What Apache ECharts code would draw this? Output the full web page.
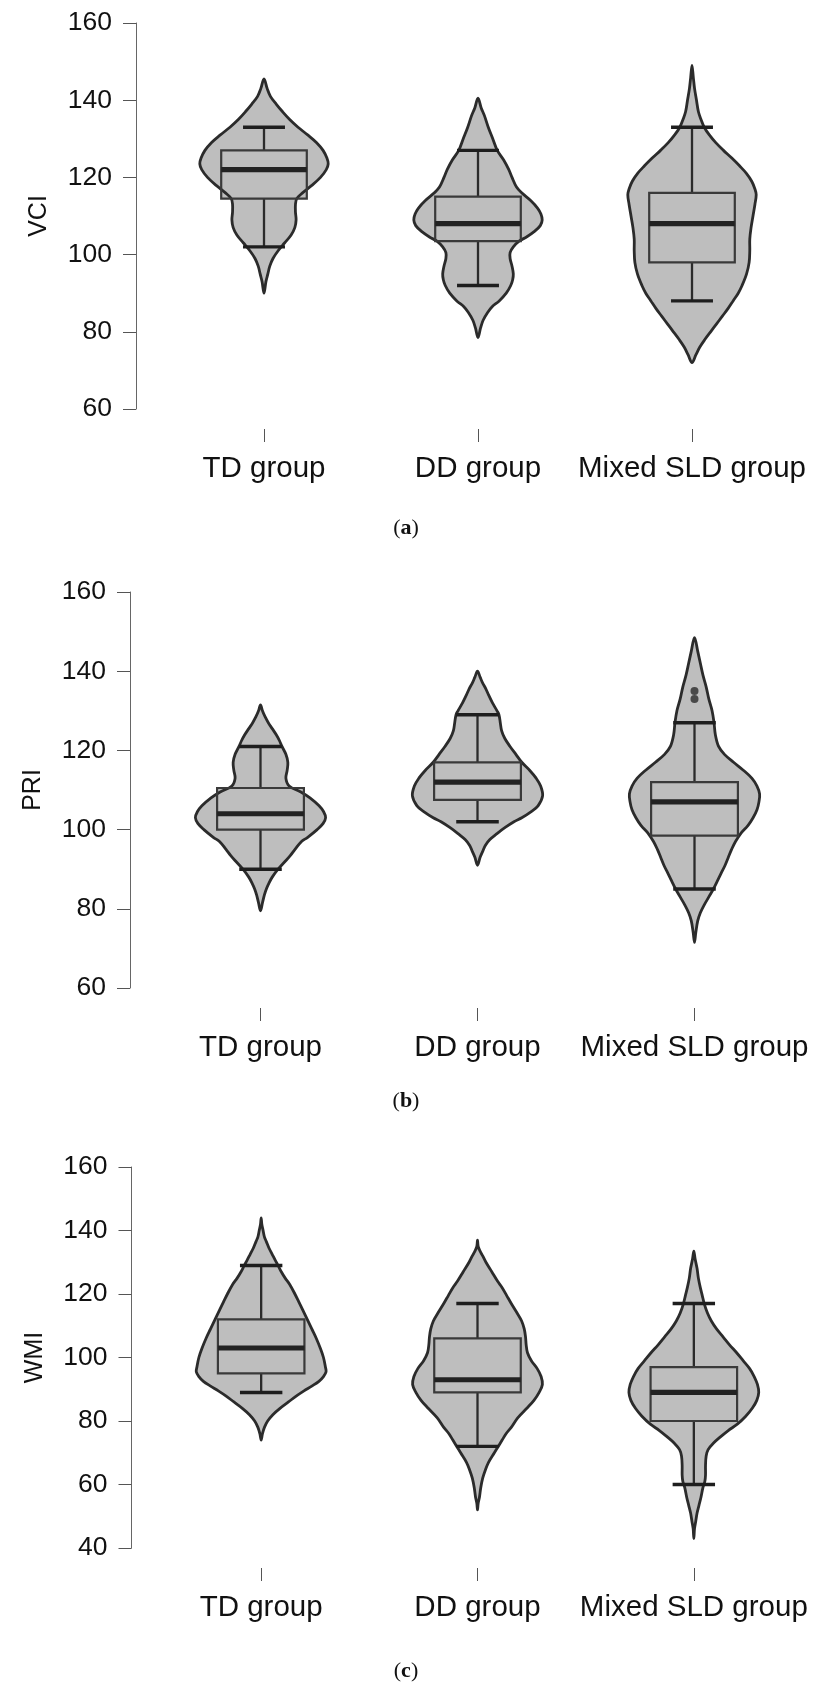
<!DOCTYPE html>
<html>
<head>
<meta charset="utf-8">
<script src="https://cdn.jsdelivr.net/npm/echarts@6/dist/echarts.min.js"></script>
<style>
html,body{margin:0;padding:0;background:#fff;}
#chart{width:813px;height:1690px;}
</style>
</head>
<body>
<div id="chart"></div>
<script>
// ---------- DATA ----------
const categories = ['TD group', 'DD group', 'Mixed SLD group'];
const yNames = ['VCI', 'PRI', 'WMI'];
const captions = ['a', 'b', 'c'];
// axis ranges [min, max, step]
const vciRange = [60, 160, 20];
const priRange = [60, 160, 20];
const wmiRange = [40, 160, 20];

// box stats: [lower whisker, Q1, median, Q3, upper whisker]
const vciBox = [[102, 114.5, 122, 127, 133], [92, 103.5, 108, 115, 127], [88, 98, 108, 116, 133]];
const priBox = [[90, 100, 104, 110.5, 121], [102, 107.5, 112, 117, 129], [85, 98.5, 107, 112, 127]];
const wmiBox = [[89, 95, 103, 112, 129], [72, 89, 93, 106, 117], [60, 80, 89, 97, 117]];

// outliers [category index, value]
const priOutliers = [[2, 133], [2, 135]];

// violin density profiles: [value, relative half-width]
const vciTD = [[145.5,0],[143,0.05],[141,0.1],[139,0.19],[137,0.29],[135,0.4],[133,0.53],[131,0.68],[129,0.82],[127,0.92],[125,0.98],[123.5,1],[122,0.97],[120,0.88],[118,0.75],[116,0.6],[114.5,0.51],[113,0.49],[111,0.49],[109,0.5],[107,0.48],[105,0.42],[103,0.32],[101,0.22],[99,0.14],[97,0.09],[95,0.06],[93,0.03],[90,0]];
const vciDD = [[140.5,0],[138,0.05],[136,0.1],[133,0.16],[130,0.23],[127,0.3],[124.5,0.4],[122,0.48],[120,0.53],[117.5,0.6],[116,0.68],[114,0.82],[112,0.93],[110.5,0.98],[109,1],[107.5,0.97],[106,0.88],[104.5,0.75],[103.5,0.64],[102,0.55],[100.5,0.5],[99,0.5],[97,0.53],[95,0.55],[93.5,0.54],[92,0.51],[90,0.44],[88,0.33],[86.5,0.22],[85,0.15],[83,0.08],[81,0.04],[78.5,0]];
const vciMixed = [[149,0],[146,0.02],[143,0.04],[140,0.07],[137,0.1],[135,0.14],[133,0.19],[131,0.27],[129,0.37],[127,0.49],[125,0.62],[123,0.74],[121,0.85],[119,0.93],[117,0.98],[115.5,1],[113,0.98],[110,0.95],[107,0.92],[104,0.9],[101,0.9],[98,0.89],[95,0.85],[92,0.78],[90,0.72],[88,0.64],[86,0.56],[84,0.47],[82,0.38],[80,0.29],[78,0.2],[76,0.12],[74,0.06],[72,0]];

const priTD = [[131.5,0],[130,0.03],[128.5,0.07],[127,0.12],[125.5,0.18],[124,0.24],[122.5,0.29],[121,0.33],[119,0.39],[117,0.42],[115,0.41],[113,0.39],[111,0.44],[109.5,0.62],[108,0.76],[106,0.9],[104.5,0.97],[103,1],[101.5,0.96],[100,0.87],[98,0.72],[97,0.63],[95,0.53],[93.5,0.46],[92,0.38],[90,0.27],[88,0.18],[86.5,0.13],[85,0.09],[83.5,0.06],[81.5,0.03],[79.5,0]];
const priDD = [[140,0],[138.5,0.04],[137,0.08],[135.5,0.13],[134,0.17],[132,0.23],[130,0.3],[129,0.33],[127,0.35],[125,0.37],[123,0.42],[121,0.5],[119,0.59],[117,0.68],[115,0.8],[113,0.9],[111,0.97],[108.5,1],[106,0.93],[104.5,0.82],[103,0.68],[102,0.56],[100.5,0.42],[99,0.3],[97.5,0.19],[96,0.12],[94.5,0.08],[93,0.04],[91,0]];
const priMixed = [[148.5,0],[145,0.05],[142,0.09],[139,0.13],[136,0.18],[133,0.22],[130,0.27],[127,0.3],[124,0.32],[121,0.37],[119,0.46],[117,0.6],[115,0.75],[113,0.88],[111,0.96],[109,1],[107,0.99],[105,0.96],[103,0.9],[101,0.82],[99,0.71],[97,0.63],[95,0.57],[93,0.52],[91,0.47],[89,0.41],[87,0.35],[85,0.29],[83,0.22],[81,0.15],[79,0.09],[77,0.05],[74,0.02],[71.5,0]];

const wmiTD = [[144,0],[142,0.01],[140,0.03],[138,0.05],[136.5,0.08],[134.5,0.12],[132.5,0.17],[130.5,0.22],[129,0.26],[127,0.31],[125,0.37],[123,0.44],[120,0.52],[117.5,0.58],[115,0.64],[112,0.71],[109,0.78],[106,0.85],[103,0.91],[100,0.96],[97,0.99],[95.5,1],[94,0.96],[92.5,0.89],[91,0.78],[89.5,0.66],[88,0.55],[86,0.42],[84,0.29],[82,0.18],[80,0.1],[78,0.05],[76,0.02],[74,0]];
const wmiDD = [[137,0],[135,0.01],[133.5,0.04],[132,0.08],[130,0.13],[127,0.22],[124,0.31],[122,0.38],[119.5,0.45],[117,0.52],[114,0.61],[111.5,0.68],[109,0.72],[106.5,0.74],[104,0.75],[101.5,0.77],[99,0.83],[96.5,0.92],[94,0.98],[91.5,1],[89,0.95],[86.5,0.87],[84,0.76],[81,0.62],[78,0.52],[76,0.44],[74,0.38],[72,0.32],[70,0.26],[67,0.17],[64.5,0.12],[62,0.08],[59,0.05],[56,0.03],[54,0.01],[52,0]];
const wmiMixed = [[133.5,0],[131,0.02],[128,0.05],[125,0.07],[122,0.1],[119.5,0.13],[117,0.16],[114,0.21],[111.5,0.27],[109,0.35],[106.5,0.45],[104,0.55],[101.5,0.66],[99,0.76],[96.5,0.86],[94,0.93],[91.5,0.98],[89,1],[86.5,0.97],[84,0.9],[81.5,0.8],[79,0.67],[77,0.53],[75,0.41],[73,0.3],[71,0.22],[69,0.19],[66,0.18],[63,0.18],[61,0.17],[59,0.14],[56,0.11],[53.5,0.08],[51,0.05],[48.5,0.03],[46,0.01],[43,0]];

// ---------- STYLE / LAYOUT ----------
const FONT = 'Liberation Sans, Arial, sans-serif';
const FILL = '#bebebe';
const DARK = '#2b2b2b';
const VIOLIN_HALF = 0.30, BOX_HALF = 0.20, CAP_HALF = 0.098;

const panels = [
  { profiles: [vciTD, vciDD, vciMixed], box: vciBox, range: vciRange, grid: {left: 157, width: 642, top: 23, height: 386}, yOff: 21, cap: {x: 401, y: 525} },
  { profiles: [priTD, priDD, priMixed], box: priBox, range: priRange, grid: {left: 152, width: 651, top: 592, height: 396}, yOff: 22, cap: {x: 401, y: 1098} },
  { profiles: [wmiTD, wmiDD, wmiMixed], box: wmiBox, range: wmiRange, grid: {left: 153, width: 649, top: 1167, height: 381}, yOff: 21.5, cap: {x: 401, y: 1668} }
];

function violinSeries(k) {
  const P = panels[k];
  return {
    type: 'custom',
    xAxisIndex: k, yAxisIndex: k,
    silent: true,
    data: P.box.map((b, i) => [i, b[2]]),
    renderItem: function (params, api) {
      const i = api.value(0);
      const prof = P.profiles[i];
      const st = P.box[i];
      const band = api.size([1, 0])[0];
      const cx = api.coord([i, st[2]])[0];
      const vw = band * VIOLIN_HALF, bw = band * BOX_HALF, cw = band * CAP_HALF;
      const yOf = v => api.coord([i, v])[1];
      const left = prof.map(p => [cx - p[1] * vw, yOf(p[0])]);
      const right = prof.slice().reverse().map(p => [cx + p[1] * vw, yOf(p[0])]);
      const pts = left.concat(right.slice(1, right.length - 1));
      const yLo = yOf(st[0]), yQ1 = yOf(st[1]), yMed = yOf(st[2]), yQ3 = yOf(st[3]), yHi = yOf(st[4]);
      return {
        type: 'group',
        children: [
          { type: 'polygon', shape: { points: pts, smooth: 0.35 }, style: { fill: FILL, stroke: null } },
          { type: 'rect', shape: { x: cx - bw, y: yQ3, width: 2 * bw, height: yQ1 - yQ3 }, style: { fill: FILL, stroke: null } },
          { type: 'polygon', shape: { points: pts, smooth: 0.35 }, style: { fill: null, stroke: DARK, lineWidth: 2.8 } },
          { type: 'line', shape: { x1: cx, y1: yQ3, x2: cx, y2: yHi }, style: { stroke: DARK, lineWidth: 2.3 } },
          { type: 'line', shape: { x1: cx, y1: yQ1, x2: cx, y2: yLo }, style: { stroke: DARK, lineWidth: 2.3 } },
          { type: 'rect', shape: { x: cx - bw, y: yQ3, width: 2 * bw, height: yQ1 - yQ3 }, style: { fill: null, stroke: '#3a3a3a', lineWidth: 2.2 } },
          { type: 'line', shape: { x1: cx - cw, y1: yHi, x2: cx + cw, y2: yHi }, style: { stroke: '#1e1e1e', lineWidth: 3.4 } },
          { type: 'line', shape: { x1: cx - cw, y1: yLo, x2: cx + cw, y2: yLo }, style: { stroke: '#1e1e1e', lineWidth: 3.4 } },
          { type: 'line', shape: { x1: cx - bw, y1: yMed, x2: cx + bw, y2: yMed }, style: { stroke: '#222', lineWidth: 5.2 } }
        ]
      };
    }
  };
}

const option = {
  animation: false,
  backgroundColor: '#fff',
  title: panels.map((P, k) => ({
    text: '({b|' + captions[k] + '})',
    left: P.cap.x, top: P.cap.y - 13, textAlign: 'center',
    textStyle: { fontFamily: 'Liberation Serif, serif', fontSize: 22, fontWeight: 'normal', color: '#111',
      rich: { b: { fontFamily: 'Liberation Serif, serif', fontSize: 22, fontWeight: 'bold', color: '#111' } } }
  })),
  grid: panels.map(P => Object.assign({ containLabel: false }, P.grid)),
  xAxis: panels.map((P, k) => ({
    type: 'category', gridIndex: k, data: categories, boundaryGap: true,
    offset: 20,
    axisLine: { show: false },
    axisTick: { show: true, alignWithLabel: true, length: 13, lineStyle: { color: '#555', width: 1 } },
    axisLabel: { fontFamily: FONT, fontSize: 29.5, color: '#111', margin: 25, interval: 0, hideOverlap: false },
    splitLine: { show: false }
  })),
  yAxis: panels.map((P, k) => ({
    type: 'value', gridIndex: k,
    min: P.range[0], max: P.range[1], interval: P.range[2],
    offset: P.yOff,
    name: yNames[k], nameLocation: 'middle', nameGap: 84,
    nameTextStyle: { fontFamily: FONT, fontSize: 25, color: '#111' },
    axisLine: { show: true, lineStyle: { color: '#666', width: 1 } },
    axisTick: { show: true, length: 13, lineStyle: { color: '#555', width: 1 } },
    axisLabel: { fontFamily: FONT, fontSize: 26.5, color: '#111', margin: 24 },
    splitLine: { show: false }
  })),
  series: [violinSeries(0), violinSeries(1), violinSeries(2),
    {
      type: 'scatter', xAxisIndex: 1, yAxisIndex: 1, silent: true,
      data: priOutliers, symbol: 'circle', symbolSize: 8,
      itemStyle: { color: '#2b2b2b' }, z: 5
    }]
};

const chart = echarts.init(document.getElementById('chart'), null, { renderer: 'canvas' });
chart.setOption(option);
</script>
</body>
</html>
